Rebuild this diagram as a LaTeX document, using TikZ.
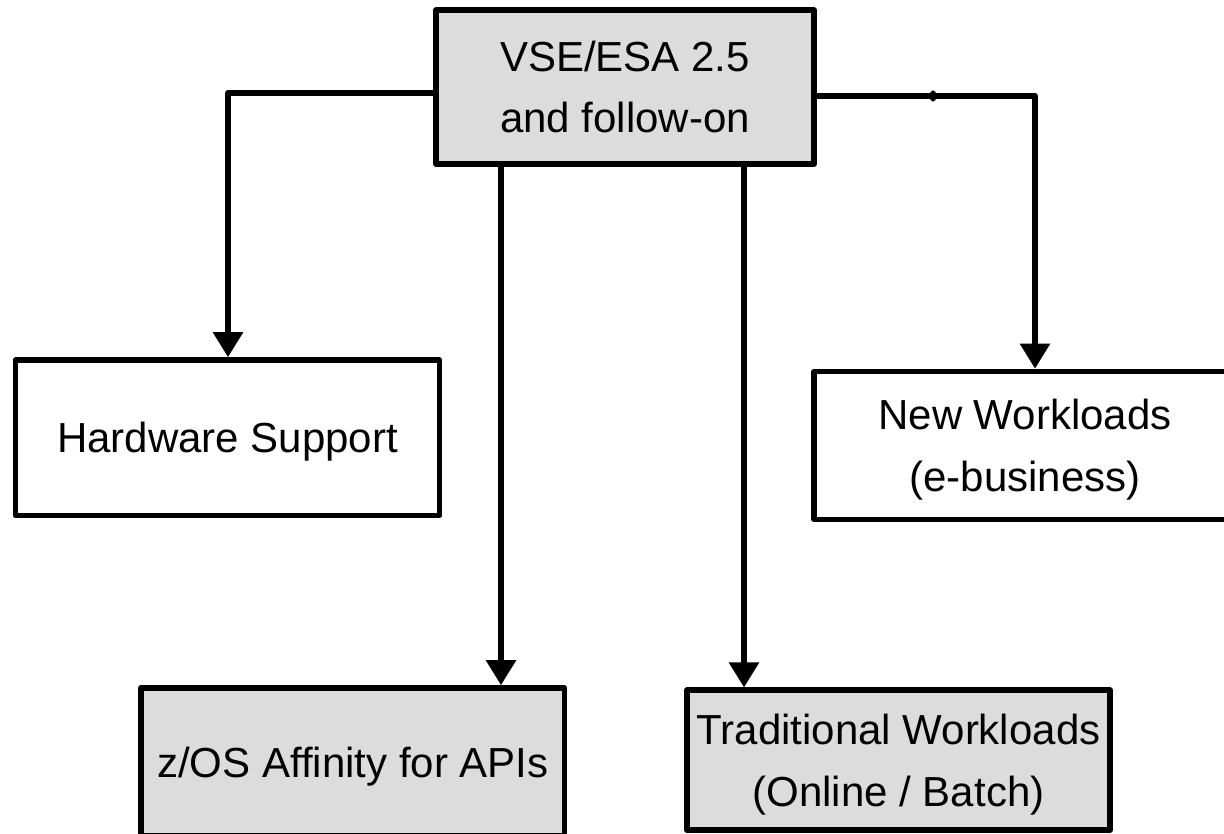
\documentclass[tikz,border=0pt]{standalone}
\usepackage{fontspec}
\setmainfont{Liberation Sans}
\usetikzlibrary{arrows.meta}
\definecolor{boxgray}{RGB}{220,220,220}
\begin{document}
\begin{tikzpicture}[x=0.75pt,y=-0.75pt,
  box/.style={draw=black, line width=4.2pt, line join=round, rectangle,
    inner sep=0pt, align=center, text depth=0pt,
    font=\fontsize{31.5}{46.1}\selectfont},
  graybox/.style={box, fill=boxgray},
  whitebox/.style={box, fill=white},
  conn/.style={line width=4.2pt, line cap=round, line join=round,
    -{Triangle[length=18.75pt,width=21.75pt]}}]
\clip (0,0) rectangle (1224,833);
\fill[white] (0,0) rectangle (1224,833);

\node[graybox, minimum width=283.5pt, minimum height=115.5pt] (top) at (625,87)
  {VSE/ESA 2.5\\and follow-on};
\node[whitebox, minimum width=318pt, minimum height=116.6pt] (hw) at (227.5,437.75)
  {Hardware Support};
\node[whitebox, minimum width=316.1pt, minimum height=111pt] (nw) at (1025,445.5)
  {New Workloads\\(e-business)};
\node[graybox, minimum width=317.6pt, minimum height=111pt] (zos) at (352.75,762)
  {z/OS Affinity for APIs};
\node[graybox, minimum width=317.25pt, minimum height=105pt] (trad) at (898.5,760.25)
  {Traditional Workloads\\(Online / Batch)};

\draw[conn] (top.west |- 0,93) -| (hw.north -| 228,0);
\draw[conn] (top.east |- 0,96) -| (nw.north -| 1035,0);
\draw[conn] (top.south -| 501,0) -- (zos.north -| 501,0);
\draw[conn] (top.south -| 744,0) -- (trad.north -| 744,0);
\fill (933,96) ellipse[x radius=2.6pt, y radius=4.2pt];
\end{tikzpicture}
\end{document}
